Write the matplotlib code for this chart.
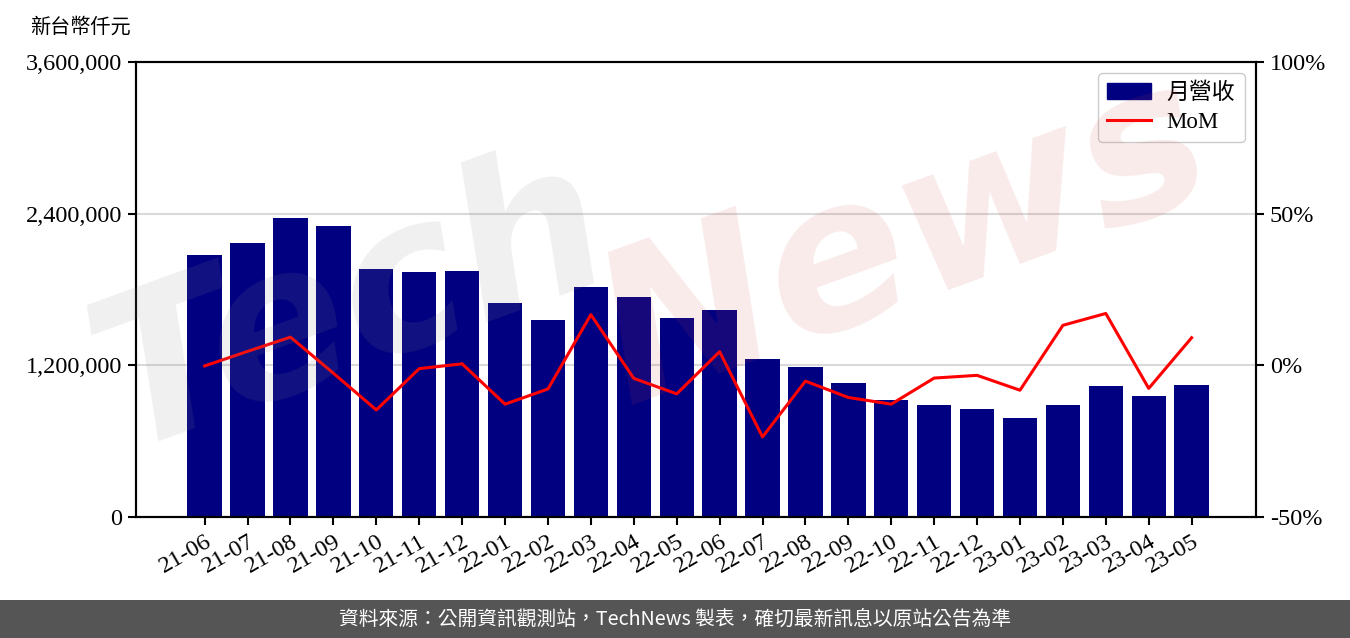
import matplotlib
matplotlib.use("Agg")
import matplotlib.pyplot as plt
from matplotlib.ticker import FuncFormatter, FixedLocator
import matplotlib.patches as mpatches

months = ["21-06", "21-07", "21-08", "21-09", "21-10", "21-11", "21-12",
          "22-01", "22-02", "22-03", "22-04", "22-05", "22-06", "22-07",
          "22-08", "22-09", "22-10", "22-11", "22-12", "23-01", "23-02",
          "23-03", "23-04", "23-05"]
revenue = [2074000, 2170000, 2368000, 2305000, 1963000, 1939000, 1947000,
           1693000, 1558000, 1820000, 1740000, 1574000, 1640000, 1253000,
           1189000, 1062000, 927000, 887000, 856000, 784000, 887000,
           1038000, 959000, 1046000]
mom = [-0.2, 4.6, 9.3, -2.6, -14.7, -1.1, 0.5, -12.8, -7.8, 16.7, -4.3, -9.4,
       4.5, -23.6, -5.2, -10.6, -12.8, -4.2, -3.3, -8.2, 13.2, 17.1, -7.6, 9.1]

left_ticks = [0, 1200000, 2400000, 3600000]
right_ticks = [-50, 0, 50, 100]

FONT = ["Liberation Serif", "Noto Sans CJK TC", "DejaVu Sans"]
plt.rcParams["font.family"] = FONT

fig = plt.figure(figsize=(13.5, 6.38), dpi=100)
ax = fig.add_axes([136/1350, 1-517/638, (1256-136)/1350, (517-62)/638])

x = list(range(len(months)))

# watermark
fig.text(0.26, 0.52, "Tech", fontsize=150, fontweight="bold", style="italic",
         color="#888888", alpha=0.13, rotation=20, ha="center", va="center",
         family="DejaVu Sans", zorder=0)
fig.text(0.67, 0.62, "News", fontsize=150, fontweight="bold", style="italic",
         color="#d04848", alpha=0.11, rotation=20, ha="center", va="center",
         family="DejaVu Sans", zorder=0)
ax.patch.set_alpha(0)

ax.bar(x, revenue, width=0.8, color="#000080", zorder=2, label="月營收")
ax.set_ylim(0, 3600000)
ax.set_xlim(-1.6, 24.5)
ax.yaxis.set_major_locator(FixedLocator(left_ticks))
ax.yaxis.set_major_formatter(FuncFormatter(lambda v, p: f"{int(v):,}"))
ax.grid(axis="y", color="#d9d9d9", linewidth=1.5, zorder=0)
ax.set_axisbelow(True)
ax.set_xticks(x)
ax.set_xticklabels(months, rotation=30, ha="right", rotation_mode="anchor")

ax2 = ax.twinx()
ax2.plot(x, mom, color="#ff0000", linewidth=2.2, zorder=3, label="MoM")
ax2.set_ylim(-50, 100)
ax2.yaxis.set_major_locator(FixedLocator(right_ticks))
ax2.yaxis.set_major_formatter(FuncFormatter(lambda v, p: f"{int(v)}%"))

for a in (ax, ax2):
    for s in a.spines.values():
        s.set_linewidth(1.5)
        s.set_color("black")
    a.tick_params(axis="both", which="major", direction="out", length=6,
                  width=1.5, labelsize=17.5, colors="black", pad=4)

handles = [mpatches.Patch(color="#000080", label="月營收"),
           plt.Line2D([], [], color="#ff0000", linewidth=2.2, label="MoM")]
ax2.legend(handles=handles, loc="upper right", prop={"size": 16.5},
           frameon=True, framealpha=1, edgecolor="#cccccc", borderaxespad=0.5,
           handlelength=1.9, handletextpad=0.7, labelspacing=0.35,
           borderpad=0.4, fancybox=True)

fig.text(30/1350, 1-27/638, "新台幣仟元", fontsize=14.5, ha="left", va="center",
         family=["Noto Sans CJK TC", "DejaVu Sans"])

# bottom banner
fig.patches.append(mpatches.Rectangle((0, 0), 1, 38/638, transform=fig.transFigure,
                                      facecolor="#555555", edgecolor="none", zorder=5))
fig.text(0.5, 19/638, "資料來源：公開資訊觀測站，TechNews 製表，確切最新訊息以原站公告為準",
         color="white", fontsize=14.2, ha="center", va="center", zorder=6,
         family=["Noto Sans CJK TC", "DejaVu Sans"])

fig.savefig("out.png", dpi=100)
